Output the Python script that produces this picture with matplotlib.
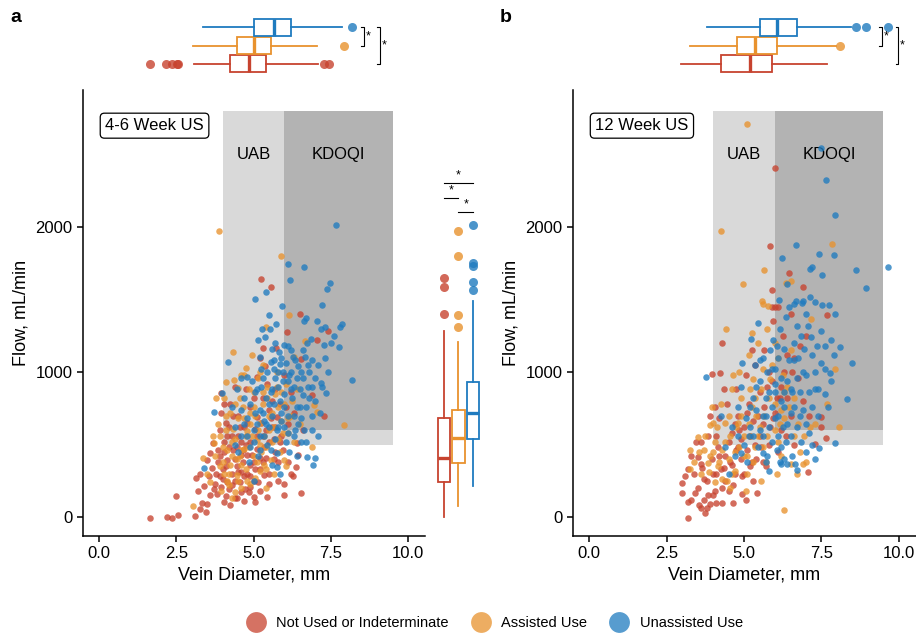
import matplotlib.pyplot as plt
from matplotlib.patches import Rectangle
from matplotlib.lines import Line2D

plt.rcParams['font.family'] = ['Liberation Sans', 'DejaVu Sans']

groups = ['Not Used or Indeterminate', 'Assisted Use', 'Unassisted Use']
colors = ['#C7432F', '#E8922E', '#1F7BBF']

# shaded target zones: (x0, y0) of each, common top-right corner
uab_zone = (4.0, 500)
kdoqi_zone = (6.0, 600)
zone_top = (9.5, 2800)

# ---- panel a (4-6 week) points, (diameter mm, flow mL/min) ----
a_red = [(1.66, -7), (2.2, 2), (2.36, -5), (2.55, 14), (3.09, 7), (3.26, 53), (3.47, 32), (2.49, 147),
         (3.34, 94), (3.5, 90), (3.82, 159), (4.12, 147), (4.25, 83), (4.06, 101), (4.47, 129), (5.06, 106),
         (4.72, 193), (3.19, 181), (3.71, 191), (3.39, 214), (3.15, 267), (3.28, 294), (3.55, 283), (3.66, 340),
         (3.95, 853), (4.04, 777), (5.12, 968), (6.9, 841), (6.36, 347), (6.28, 283), (6.55, 163), (5.98, 152),
         (6.0, 228), (5.25, 1641), (5.55, 1588), (6.52, 1400), (6.08, 1276), (7.42, 1285), (7.05, 1221),
         (5.72, 1166), (5.32, 1163), (5.22, 1097), (5.36, 1039), (6.54, 1090), (7.27, 700),
         (3.8, 300), (3.9, 420), (4.0, 260), (4.1, 350), (4.2, 480), (4.3, 220), (4.4, 400), (4.5, 310),
         (4.6, 520), (4.7, 280), (4.8, 430), (4.9, 360), (5.0, 250), (5.1, 470), (5.2, 330), (5.3, 560),
         (5.4, 410), (5.5, 300), (5.6, 620), (5.7, 450), (5.8, 380), (3.7, 510), (3.9, 600), (4.1, 650),
         (4.3, 560), (4.5, 700), (4.7, 620), (4.9, 760), (5.1, 690), (5.3, 820), (5.5, 740), (5.7, 880),
         (5.9, 560), (6.1, 640), (6.3, 720), (4.2, 190), (4.6, 170), (4.9, 210), (5.2, 180), (5.5, 230),
         (4.4, 250), (4.8, 300), (5.0, 380), (4.35, 460), (4.65, 380), (4.15, 560), (4.55, 620), (5.35, 480),
         (5.65, 540), (3.95, 720), (4.25, 780), (4.75, 880), (5.45, 920), (6.2, 860), (6.0, 980), (4.9, 520),
         (5.05, 610), (4.45, 480), (3.85, 380), (3.6, 440), (4.05, 450), (5.75, 690), (6.4, 510), (6.6, 600),
         (5.85, 780),
         (3.6, 150), (3.75, 230), (3.9, 280), (4.0, 330), (4.15, 390), (4.3, 300), (4.45, 350), (4.6, 430),
         (4.75, 500), (4.9, 280), (5.05, 330), (5.2, 410), (5.35, 290), (5.5, 520), (5.65, 400), (5.8, 250),
         (5.95, 460), (6.1, 380), (4.05, 520), (4.2, 620), (4.35, 700), (4.5, 560), (4.65, 460), (4.8, 650),
         (4.95, 430), (5.1, 560), (5.25, 650), (5.4, 600), (5.55, 680), (5.7, 620), (5.85, 520), (6.05, 760),
         (3.85, 460), (3.5, 390), (4.15, 240), (4.55, 240), (4.85, 170), (5.15, 240), (5.45, 140), (4.4, 130),
         (4.7, 110), (5.0, 140), (3.95, 210), (4.6, 310), (5.3, 380), (6.2, 300), (6.45, 430), (5.6, 800),
         (5.0, 820), (4.4, 900)]
a_orange = [(3.87, 1972), (5.88, 1800), (6.15, 1393), (5.4, 1308), (6.67, 1211), (4.34, 1136), (4.96, 1115),
            (4.75, 1028), (6.31, 1106), (4.12, 929), (4.36, 945), (4.49, 888), (6.96, 772), (7.07, 726),
            (6.88, 485), (5.98, 393), (5.39, 198), (3.04, 76), (3.37, 405), (3.73, 508), (4.3, 130), (7.92, 634),
            (3.9, 350), (4.0, 480), (4.1, 600), (4.2, 300), (4.3, 420), (4.4, 540), (4.5, 680), (4.6, 360),
            (4.7, 470), (4.8, 590), (4.9, 720), (5.0, 420), (5.1, 530), (5.2, 650), (5.3, 780), (5.4, 480),
            (5.5, 600), (5.6, 720), (5.7, 850), (5.8, 540), (5.9, 660), (6.0, 780), (6.1, 580), (6.2, 700),
            (4.15, 250), (4.45, 290), (4.75, 330), (5.05, 270), (5.35, 360), (4.25, 720), (4.55, 820),
            (4.85, 880), (5.15, 960), (5.45, 900), (5.75, 1000), (4.05, 820), (3.85, 640), (3.7, 560),
            (4.35, 610), (4.65, 760), (4.95, 560), (5.25, 450), (5.55, 390), (5.85, 450), (6.3, 520),
            (6.5, 640), (6.4, 880), (4.6, 200), (4.9, 230), (5.2, 320), (4.4, 170), (3.5, 300), (3.6, 240),
            (3.95, 180), (5.65, 300), (6.05, 350), (4.7, 980), (5.0, 860), (5.3, 1050), (3.8, 820),
            (4.0, 380), (4.15, 460), (4.3, 520), (4.45, 400), (4.6, 460), (4.75, 560), (4.9, 640), (5.05, 700),
            (5.2, 500), (5.35, 560), (5.5, 700), (5.65, 620), (5.8, 760), (5.95, 580), (6.1, 680), (6.25, 800),
            (4.25, 360), (4.55, 420), (4.85, 480), (5.15, 600), (5.45, 820), (5.75, 900), (6.05, 920),
            (3.9, 560), (4.1, 700), (4.4, 780), (4.7, 680), (5.0, 760), (5.3, 860), (5.6, 520), (5.9, 860),
            (4.2, 220), (4.5, 250), (4.8, 250), (5.1, 380), (5.4, 330), (3.75, 420), (4.05, 300), (4.6, 980),
            (5.2, 1000)]
a_blue = [(7.67, 2011), (6.12, 1745), (6.63, 1726), (6.17, 1632), (7.48, 1616), (5.4, 1554), (7.37, 1570),
          (5.06, 1501), (5.93, 1455), (7.2, 1462), (6.7, 1372), (6.63, 1352), (5.51, 1395), (5.72, 1329),
          (5.26, 1297), (5.52, 1299), (5.38, 1239), (5.15, 1223), (7.18, 1299), (7.31, 1313), (7.81, 1308),
          (7.87, 1329), (6.74, 1202), (6.85, 1225), (7.27, 1184), (7.76, 1170), (5.7, 1202), (6.0, 1186),
          (6.11, 1179), (6.2, 1152), (5.84, 1136), (4.18, 1067), (5.22, 1103), (5.56, 1067), (5.66, 1019),
          (5.79, 1002), (5.85, 1055), (6.27, 1103), (6.68, 1101), (6.88, 1083), (7.4, 1002), (8.18, 945),
          (7.34, 853), (7.18, 927), (6.63, 600), (6.69, 519), (6.74, 411), (6.99, 405), (6.93, 359),
          (5.85, 297), (5.77, 343), (6.15, 450), (3.39, 336), (3.73, 726), (3.98, 857), (4.79, 968),
          (4.6, 560), (4.8, 680), (5.0, 600), (5.2, 740), (5.4, 820), (5.6, 700), (5.8, 900), (6.0, 760),
          (6.2, 880), (6.4, 960), (6.6, 840), (6.8, 1000), (5.1, 880), (5.3, 960), (5.5, 620), (5.7, 540),
          (5.9, 660), (6.1, 580), (6.3, 700), (6.5, 760), (4.9, 480), (5.15, 420), (5.45, 500), (5.75, 440),
          (6.05, 520), (6.35, 600), (4.4, 620), (4.3, 760), (4.7, 820), (4.95, 940), (5.25, 1020),
          (5.55, 860), (5.85, 800), (6.15, 980), (6.45, 1040), (6.75, 900), (7.0, 800), (7.1, 1050),
          (6.9, 700), (5.05, 720), (5.35, 660), (5.65, 780), (5.95, 940), (6.25, 820), (6.55, 680),
          (4.5, 450), (4.85, 380), (5.6, 360), (6.4, 420), (7.1, 560), (4.6, 960), (4.45, 880), (5.9, 1100),
          (6.6, 1150), (7.6, 1250), (7.05, 1350), (5.0, 250),
          (5.0, 520), (5.1, 640), (5.2, 560), (5.3, 720), (5.4, 640), (5.5, 780), (5.6, 880), (5.7, 960),
          (5.8, 620), (5.9, 720), (6.0, 850), (6.1, 940), (6.2, 1000), (6.3, 900), (6.4, 760), (6.5, 880),
          (6.6, 960), (6.7, 760), (6.8, 820), (6.9, 900), (7.0, 960), (4.8, 560), (4.7, 640), (4.9, 780),
          (5.05, 860), (5.25, 900), (5.45, 1000), (5.65, 1080), (5.95, 1000), (6.05, 1060), (6.35, 1080),
          (6.55, 1000), (6.75, 1050), (7.2, 900), (7.3, 1100), (7.5, 1200), (5.35, 560), (5.55, 460),
          (5.75, 600), (6.0, 620), (6.3, 560), (6.55, 520), (6.9, 600), (4.6, 740), (4.4, 500), (5.2, 460),
          (6.1, 700), (6.45, 640), (7.15, 720), (5.6, 1160)]

# ---- panel b (12 week) points ----
b_red = [(6.01, 2405), (5.83, 1869), (6.45, 1685), (6.89, 1584), (5.9, 1566), (5.9, 1448), (6.09, 1448),
         (6.0, 1450), (7.68, 1393), (4.29, 1202), (3.98, 986), (4.23, 995), (3.83, 559), (4.2, 680),
         (3.53, 416), (3.61, 366), (3.18, -9), (2.99, 232), (3.01, 168), (3.18, 106), (3.42, 168), (3.7, 120),
         (3.8, 60), (3.85, 150), (3.75, 30), (3.9, 90), (4.09, 94), (4.64, 94), (5.06, 117), (5.41, 168),
         (7.5, 690), (7.5, 620), (7.66, 547), (7.29, 503), (7.06, 308),
         (4.0, 300), (4.2, 420), (4.4, 250), (4.6, 360), (4.8, 480), (5.0, 300), (5.2, 560), (5.4, 400),
         (5.6, 640), (5.8, 500), (6.0, 720), (6.2, 600), (6.4, 820), (4.1, 560), (4.3, 200), (4.5, 520),
         (4.7, 640), (4.9, 400), (5.1, 720), (5.3, 250), (5.5, 860), (5.7, 350), (5.9, 940), (6.1, 450),
         (6.3, 1000), (6.5, 700), (3.6, 520), (3.7, 260), (4.05, 180), (4.35, 340), (4.65, 220), (4.95, 160),
         (5.25, 380), (5.55, 480), (5.85, 620), (6.15, 820), (6.6, 1100), (6.8, 1180), (7.0, 1250),
         (6.5, 1400), (6.75, 960), (5.35, 1050), (5.65, 1150), (4.45, 780), (4.75, 880), (5.05, 980),
         (3.4, 300), (3.3, 420), (4.85, 600), (5.45, 700),
         (3.3, 120), (3.5, 200), (3.6, 60), (3.65, 340), (3.8, 250), (3.95, 400), (4.0, 150), (4.1, 300),
         (4.15, 480), (4.25, 330), (4.3, 100), (4.4, 420), (4.5, 180), (4.55, 380), (4.6, 580), (4.7, 300),
         (4.75, 460), (4.8, 700), (4.9, 540), (4.95, 280), (5.0, 620), (5.1, 460), (5.15, 780), (5.2, 350),
         (5.3, 660), (5.35, 500), (5.5, 560), (5.6, 380), (5.65, 760), (5.75, 900), (5.8, 1000), (5.95, 680),
         (6.05, 820), (6.2, 900), (6.35, 560), (6.55, 1000), (6.6, 500), (6.9, 800), (7.1, 700), (4.35, 880),
         (3.9, 700), (3.45, 520), (3.2, 330), (3.1, 280), (4.05, 760), (5.25, 1150), (5.95, 1350),
         (6.25, 1250), (6.4, 1120), (3.55, 80)]
b_orange = [(5.09, 2708), (4.26, 1975), (7.85, 1883), (5.66, 1703), (4.96, 1605), (6.51, 1628), (6.35, 1612),
            (5.57, 1490), (5.76, 1453), (5.6, 1470), (4.41, 1297), (5.27, 1271), (7.17, 1366), (7.95, 1021),
            (7.69, 777), (8.08, 618), (7.14, 618), (6.3, 48), (3.27, 462), (3.25, 333), (3.83, 370), (3.87, 312),
            (3.91, 634), (4.14, 618),
            (4.0, 450), (4.2, 380), (4.4, 520), (4.6, 300), (4.8, 650), (5.0, 420), (5.2, 560), (5.4, 700),
            (5.6, 480), (5.8, 820), (6.0, 600), (6.2, 740), (6.4, 900), (4.3, 260), (4.5, 700), (4.7, 450),
            (4.9, 820), (5.1, 300), (5.3, 950), (5.5, 620), (5.7, 380), (5.9, 1050), (6.1, 520), (6.3, 680),
            (6.6, 560), (6.8, 450), (7.0, 380), (3.5, 550), (3.7, 460), (4.05, 240), (4.55, 200), (5.05, 180),
            (5.55, 250), (6.05, 300), (6.5, 366), (6.9, 366), (4.85, 1000), (5.15, 1120), (5.45, 1200),
            (6.0, 1200), (3.95, 760), (4.6, 880), (5.35, 820), (6.25, 980),
            (3.4, 380), (3.6, 300), (3.75, 560), (3.9, 420), (4.05, 520), (4.15, 350), (4.3, 460), (4.4, 650),
            (4.5, 400), (4.55, 560), (4.7, 320), (4.75, 620), (4.85, 480), (4.9, 700), (5.0, 560), (5.1, 420),
            (5.15, 640), (5.25, 760), (5.35, 480), (5.45, 560), (5.55, 880), (5.65, 700), (5.75, 560),
            (5.85, 950), (6.0, 780), (6.15, 640), (6.3, 860), (6.45, 760), (6.6, 820), (6.75, 640), (6.95, 560),
            (4.25, 780), (4.65, 980), (5.2, 880), (5.6, 1020), (6.1, 1100), (4.0, 650), (3.55, 450), (4.45, 250),
            (5.3, 380), (6.2, 420), (6.7, 300), (7.3, 640), (5.75, 1300), (6.5, 1150)]
b_blue = [(7.47, 2547), (7.66, 2322), (7.92, 2081), (6.69, 1878), (7.42, 1814), (7.9, 1805), (6.21, 1786),
          (9.64, 1726), (7.19, 1726), (7.12, 1708), (8.6, 1703), (7.51, 1671), (6.4, 1607), (8.93, 1577),
          (7.14, 1519), (6.12, 1497), (6.69, 1488), (6.86, 1476), (7.52, 1464), (7.73, 1464), (6.45, 1446),
          (6.6, 1470), (6.9, 1490), (7.3, 1480), (7.95, 1400), (7.5, 1280), (7.8, 1220), (8.1, 1170),
          (7.6, 1180), (8.48, 1064), (7.76, 991), (7.8, 940), (8.31, 812), (7.95, 513), (7.41, 474),
          (7.29, 398), (6.71, 324), (6.2, 366), (6.4, 366), (6.65, 366), (3.78, 963), (5.22, 1225),
          (5.44, 1340),
          (5.0, 500), (5.2, 620), (5.4, 740), (5.6, 560), (5.8, 860), (6.0, 680), (6.2, 800), (6.4, 940),
          (6.6, 1080), (6.8, 860), (7.0, 980), (7.2, 1120), (5.1, 380), (5.3, 820), (5.5, 940), (5.7, 700),
          (5.9, 1020), (6.1, 560), (6.3, 1160), (6.5, 720), (6.7, 620), (6.9, 740), (7.1, 580), (7.3, 880),
          (4.6, 620), (4.8, 760), (4.4, 480), (4.7, 420), (4.9, 900), (5.45, 480), (5.75, 420), (6.05, 460),
          (6.35, 520), (6.55, 860), (6.85, 1250), (7.05, 1320), (6.15, 1300), (5.95, 1220), (5.6, 1100),
          (5.35, 1050), (4.95, 1060), (4.25, 700), (4.5, 300), (5.8, 320), (6.3, 400), (7.0, 450),
          (7.4, 700), (7.6, 850), (7.9, 1120), (6.0, 920), (6.25, 620),
          (5.5, 600), (5.6, 700), (5.7, 820), (5.8, 620), (5.9, 760), (6.0, 860), (6.1, 700), (6.2, 960),
          (6.3, 760), (6.4, 640), (6.5, 880), (6.6, 760), (6.7, 960), (6.8, 700), (6.9, 1000), (7.0, 640),
          (7.1, 860), (7.2, 760), (7.3, 1000), (7.4, 880), (7.5, 1060), (5.2, 760), (5.3, 560), (5.4, 900),
          (5.6, 440), (5.9, 520), (6.1, 1100), (6.3, 860), (6.45, 1080), (6.6, 1200), (6.75, 1100),
          (6.95, 1160), (7.15, 1240), (7.35, 1180), (5.75, 1000), (5.5, 1080), (6.0, 1020), (6.5, 560),
          (6.85, 520), (7.2, 500), (5.05, 680), (4.8, 560), (4.9, 440), (5.15, 560), (5.7, 380), (6.2, 480),
          (6.55, 420), (7.0, 1400), (6.7, 1320), (6.35, 1380), (7.6, 1020), (7.7, 760), (6.05, 1180),
          (5.85, 1150), (6.15, 380)]

# ---- box statistics: whislo, q1, med, q3, whishi, fliers ----
a_top_stats = [(3.08, 4.25, 4.84, 5.39, 7.08, [1.66, 2.18, 2.37, 2.53, 2.56, 7.27, 7.44]),
               (3.05, 4.48, 5.03, 5.58, 7.05, [7.92]),
               (3.38, 5.03, 5.65, 6.2, 7.86, [8.18])]
a_right_stats = [(0, 241, 407, 683, 1283, [1400, 1586, 1648]),
                 (76, 372, 545, 738, 1207, [1310, 1393, 1800, 1972]),
                 (214, 538, 717, 931, 1490, [1566, 1621, 1731, 1752, 2014])]
b_top_stats = [(2.98, 4.27, 5.18, 5.89, 7.67, []),
               (3.24, 4.76, 5.37, 6.05, 7.96, [8.09]),
               (3.79, 5.5, 6.08, 6.7, 8.45, [8.61, 8.93, 9.64])]

# significance brackets
a_top_brackets = [(8.57, 1, 2), (9.09, 0, 2)]
b_top_brackets = [(9.45, 1, 2), (9.97, 0, 2)]
a_right_brackets = [(2303, 0, 2), (2200, 0, 1), (2103, 1, 2)]

XLIM = (-0.52, 10.55)
YLIM = (-131, 2945)
W, H = 916, 636


def box(ax, stats, horizontal):
    for i, (st, c) in enumerate(zip(stats, colors)):
        d = dict(whislo=st[0], q1=st[1], med=st[2], q3=st[3], whishi=st[4], fliers=st[5])
        ax.bxp([d], positions=[i], widths=0.92 if horizontal else 0.88,
               orientation='horizontal' if horizontal else 'vertical',
               patch_artist=True, showcaps=False,
               boxprops=dict(facecolor='white', edgecolor=c, lw=1.3),
               whiskerprops=dict(color=c, lw=1.3),
               medianprops=dict(color=c, lw=2.4),
               flierprops=dict(marker='o', markerfacecolor=c, markeredgecolor='none',
                               markersize=6.5, alpha=0.8))


def main_panel(ax, sets, title):
    ax.add_patch(Rectangle(uab_zone, zone_top[0] - uab_zone[0], zone_top[1] - uab_zone[1],
                           color='#D9D9D9', lw=0, zorder=0))
    ax.add_patch(Rectangle(kdoqi_zone, zone_top[0] - kdoqi_zone[0], zone_top[1] - kdoqi_zone[1],
                           color='#B3B3B3', lw=0, zorder=0.5))
    ax.text((uab_zone[0] + kdoqi_zone[0]) / 2, 2500, 'UAB', ha='center', va='center', fontsize=12)
    ax.text((kdoqi_zone[0] + zone_top[0]) / 2, 2500, 'KDOQI', ha='center', va='center', fontsize=12)
    for pts, c in zip(sets, colors):
        ax.scatter([p[0] for p in pts], [p[1] for p in pts], s=22, color=c, alpha=0.78,
                   linewidths=0, zorder=3)
    ax.text(0.065, 0.92, title, transform=ax.transAxes, fontsize=12, va='center', ha='left',
            bbox=dict(boxstyle='round,pad=0.3,rounding_size=0.25', fc='white', ec='black', lw=0.9))
    ax.set_xlim(*XLIM)
    ax.set_ylim(*YLIM)
    ax.set_xticks([0, 2.5, 5, 7.5, 10], ['0.0', '2.5', '5.0', '7.5', '10.0'])
    ax.set_yticks([0, 1000, 2000])
    ax.spines[['top', 'right']].set_visible(False)
    ax.spines[['left', 'bottom']].set_linewidth(1.1)
    ax.tick_params(length=4, width=1.1, labelsize=12, colors='black')
    ax.set_xlabel('Vein Diameter, mm', fontsize=13)
    ax.set_ylabel('Flow, mL/min', fontsize=13)


def top_panel(ax, stats, brackets):
    box(ax, stats, True)
    for x, y0, y1 in brackets:
        ax.plot([x - 0.08, x, x, x - 0.08], [y0, y0, y1, y1], color='black', lw=0.8)
        ax.text(x + 0.05, (y0 + y1) / 2, '*', fontsize=9, ha='left', va='center')
    ax.set_xlim(*XLIM)
    ax.set_ylim(-0.6, 2.6)
    ax.axis('off')


fig = plt.figure(figsize=(W / 100, H / 100), dpi=100)

bot, top = 1 - 536 / H, 1 - 90 / H
ax_a = fig.add_axes([83 / W, bot, (425 - 83) / W, top - bot])
ax_b = fig.add_axes([573 / W, bot, (916 - 573) / W, top - bot])
main_panel(ax_a, [a_red, a_orange, a_blue], '4-6 Week US')
main_panel(ax_b, [b_red, b_orange, b_blue], '12 Week US')

tb, tt = 1 - 75 / H, 1 - 16 / H
ax_at = fig.add_axes([83 / W, tb, (425 - 83) / W, tt - tb])
ax_bt = fig.add_axes([573 / W, tb, (916 - 573) / W, tt - tb])
top_panel(ax_at, a_top_stats, a_top_brackets)
top_panel(ax_bt, b_top_stats, b_top_brackets)

ax_ar = fig.add_axes([435 / W, bot, 50 / W, top - bot])
box(ax_ar, a_right_stats, False)
for y, x0, x1 in a_right_brackets:
    ax_ar.plot([x0, x1], [y, y], color='black', lw=0.8)
    ax_ar.text((x0 + x1) / 2, y + 10, '*', fontsize=9, ha='center', va='bottom')
ax_ar.set_xlim(-0.62, 2.83)
ax_ar.set_ylim(*YLIM)
ax_ar.axis('off')

fig.text(10 / W, 1 - 18 / H, 'a', fontsize=14, fontweight='bold', va='center')
fig.text(500 / W, 1 - 18 / H, 'b', fontsize=14, fontweight='bold', va='center')

handles = [Line2D([], [], marker='o', ls='', color=c, markersize=15, alpha=0.75, markeredgewidth=0)
           for c in colors]
fig.legend(handles, groups, loc='center', bbox_to_anchor=(492 / W, 1 - 623 / H), ncol=3,
           frameon=False, fontsize=10.5, handletextpad=0.4, columnspacing=1.2)

fig.savefig('out.png', dpi=100)
